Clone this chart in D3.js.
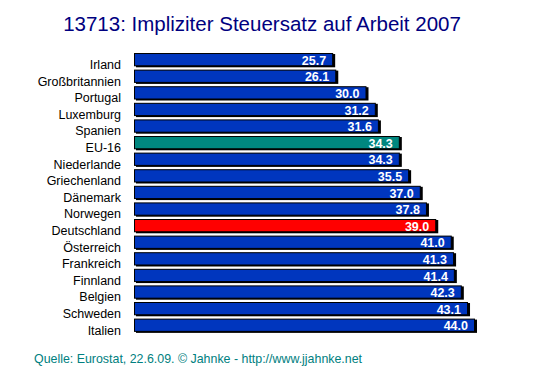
<!DOCTYPE html>
<html>
<head>
<meta charset="utf-8">
<script src="https://cdn.jsdelivr.net/npm/d3@7"></script>
<style>
  body { margin: 0; background: #fff; }
  text { font-family: "Liberation Sans", Arial, sans-serif; }
</style>
</head>
<body>
<svg id="chart" width="553" height="376"></svg>
<script>
// data
var categories = ["Irland", "Großbritannien", "Portugal", "Luxemburg", "Spanien", "EU-16",
                  "Niederlande", "Griechenland", "Dänemark", "Norwegen", "Deutschland",
                  "Österreich", "Frankreich", "Finnland", "Belgien", "Schweden", "Italien"];
var values = [25.7, 26.1, 30.0, 31.2, 31.6, 34.3, 34.3, 35.5, 37.0, 37.8, 39.0,
              41.0, 41.3, 41.4, 42.3, 43.1, 44.0];
var highlight = {"EU-16": "#00877f", "Deutschland": "#ff0000"};

var title = "13713: Impliziter Steuersatz auf Arbeit 2007";
var source = "Quelle: Eurostat, 22.6.09. © Jahnke - http://www.jjahnke.net";

var data = categories.map(function(c, i) { return {name: c, value: values[i]}; });

var svg = d3.select("#chart");

// scales
var x = d3.scaleLinear()
    .domain([0, 44])
    .range([134, 475]);

var y = d3.scaleBand()
    .domain(categories)
    .range([49.7, 335.2])
    .padding(0.2);

// title
svg.append("text")
    .attr("x", 262)
    .attr("y", 31)
    .attr("text-anchor", "middle")
    .attr("fill", "#000080")
    .style("font-size", "20.5px")
    .text(title);

// bars: black shadow then coloured bar with black outline
var rows = svg.append("g")
    .selectAll("g")
    .data(data)
    .enter().append("g");

rows.append("rect")
    .attr("x", x(0) + 2)
    .attr("y", function(d) { return y(d.name) + 1; })
    .attr("width", function(d) { return x(d.value) - x(0); })
    .attr("height", y.bandwidth())
    .attr("fill", "#000");

rows.append("rect")
    .attr("x", x(0) + 0.5)
    .attr("y", function(d) { return y(d.name) + 0.5; })
    .attr("width", function(d) { return x(d.value) - x(0) - 1; })
    .attr("height", y.bandwidth() - 1)
    .attr("fill", function(d) { return highlight[d.name] || "#0036be"; })
    .attr("stroke", "#000")
    .attr("stroke-width", 1);

// value labels inside bars
rows.append("text")
    .attr("x", function(d) { return x(d.value) - 7; })
    .attr("y", function(d) { return y(d.name) + y.bandwidth() - 1.5; })
    .attr("text-anchor", "end")
    .attr("fill", "#fff")
    .style("font-size", "12.5px")
    .style("font-weight", "bold")
    .text(function(d) { return d3.format(".1f")(d.value); });

// category labels (sit a bit lower than the bars, as in the original)
rows.append("text")
    .attr("x", 121)
    .attr("y", function(d) { return y(d.name) + 16; })
    .attr("text-anchor", "end")
    .attr("fill", "#000")
    .style("font-size", "12.5px")
    .text(function(d) { return d.name; });

// source line
svg.append("text")
    .attr("x", 34)
    .attr("y", 363)
    .attr("fill", "#008080")
    .style("font-size", "12.4px")
    .text(source);
</script>
</body>
</html>
